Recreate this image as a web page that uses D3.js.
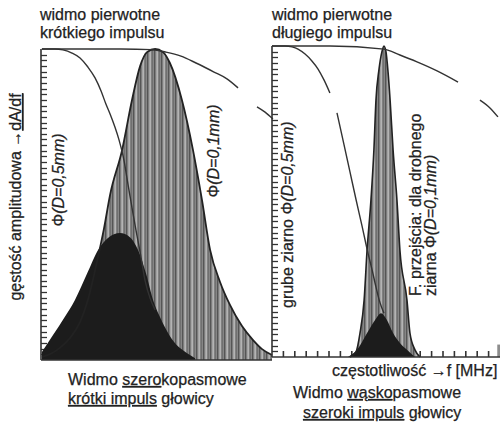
<!DOCTYPE html>
<html><head><meta charset="utf-8">
<script src="https://cdn.jsdelivr.net/npm/d3@7"></script>
<style>html,body{margin:0;padding:0;background:#fff}svg{display:block}</style>
</head><body>
<script>
// ---- data (frequency f in % of panel width, amplitude a relative 0..1) ----
const leftSpectrum = [[0.4,0.010],[3.9,0.019],[8.2,0.039],[12.6,0.071],[16.9,0.122],[20.3,0.193],[24.2,0.315],[27.3,0.424],[29.9,0.531],[35.1,0.675],[39.4,0.836],[42.9,0.945],[45.9,0.990],[49.4,1.0],[52.8,0.990],[55.8,0.955],[61.0,0.836],[65.8,0.675],[69.7,0.514],[73.2,0.354],[77.5,0.251],[81.8,0.177],[87.0,0.109],[91.8,0.064],[95.7,0.035],[100,0.016]];
const leftCoarse = [[0.4,0.026],[5.2,0.080],[10.0,0.135],[14.7,0.193],[19.9,0.277],[24.7,0.354],[29.0,0.392],[34.2,0.408],[38.5,0.395],[42.0,0.354],[45.5,0.277],[48.5,0.193],[51.5,0.138],[55.0,0.087],[58.4,0.051],[61.9,0.029],[66.7,0.006]];
const leftFilterCoarse = [[0.4,1.0],[6.1,1.0],[9.5,0.997],[13.4,0.987],[16.9,0.971],[20.3,0.942],[23.4,0.907],[26.0,0.865],[28.1,0.823],[29.9,0.791],[32.0,0.749],[33.8,0.707],[35.9,0.643],[37.7,0.563],[39.4,0.489],[41.1,0.418],[42.9,0.347],[45.0,0.257],[47.2,0.199],[49.4,0.161]];
const leftFilterFine = [[0.4,1.0],[17.3,1.0],[34.6,1.0],[47.6,0.998],[54.1,0.990],[60.6,0.977],[67.1,0.955],[74.9,0.926],[80.5,0.904],[85.3,0.875],null,[93.5,0.814],[97.0,0.797],[100.4,0.775]];
const rightSpectrum = [[34.2,0],[36.8,0.016],[38.6,0.077],[40.4,0.183],[41.7,0.344],[43.4,0.505],[44.7,0.666],[45.6,0.826],[46.9,0.923],[48.2,0.981],[49.1,1.0],[50.0,0.981],[50.9,0.916],[51.8,0.826],[53.1,0.666],[54.8,0.505],[56.1,0.344],[59.2,0.183],[60.5,0.077],[62.7,0.023],[64.9,0]];
const rightCoarse = [[33.3,0],[37.3,0.023],[41.7,0.077],[45.2,0.119],[47.8,0.141],[50.4,0.119],[53.1,0.077],[56.1,0.045],[59.2,0.023],[62.7,0]];
const rightFilterCoarse = [[0,1.0],[5.7,1.0],[8.8,0.997],[11.4,0.990],[14.5,0.974],[17.5,0.952],[20.2,0.926],[22.8,0.891],[25.4,0.849],null,[28.5,0.785],[31.6,0.682],[34.2,0.595],[36.8,0.508],[39.5,0.421],[42.1,0.334],[43.9,0.280],[45.6,0.225],[47.4,0.174],[49.1,0.141]];
const rightFilterFine = [[0,1.0],[25.4,1.0],[49.1,0.990],[56.1,0.971],[63.6,0.949],[72.4,0.920],[81.6,0.884],null,[91.2,0.826],[95.6,0.801],[99.1,0.772]];
const rightEdge = [[98.8,0.04],[100,0.04]];
const xTickValues = [5,10,15,20,25,30,35,40,45,50,55,60,65,70,75,80,85,90,95];
const yTickCount = 55;
const yTickValues = d3.range(1, yTickCount).map(i => i / yTickCount);

const W = 500, H = 423;
const FONT = '"Liberation Sans", Arial, sans-serif';
const INK = '#222';
const svg = d3.select('body').append('svg').attr('width', W).attr('height', H)
  .style('font-family', FONT);

// stripe pattern for the grey spectra
const defs = svg.append('defs');
const pat = defs.append('pattern').attr('id', 'stripes').attr('patternUnits', 'userSpaceOnUse')
  .attr('width', 7).attr('height', 10);
pat.append('rect').attr('width', 7).attr('height', 10).attr('fill', '#868686');
pat.append('rect').attr('x', 0).attr('width', 1.2).attr('height', 10).attr('fill', '#555');
pat.append('rect').attr('x', 2.5).attr('width', 1.3).attr('height', 10).attr('fill', '#c0c0c0');
pat.append('rect').attr('x', 4.8).attr('width', 0.9).attr('height', 10).attr('fill', '#666');

const xL = d3.scaleLinear([0, 100], [41, 272]);
const yL = d3.scaleLinear([0, 1], [360, 49]);
const xR = d3.scaleLinear([0, 100], [272, 500]);
const yR = d3.scaleLinear([0, 1], [357, 46]);

function drawTicks(x, y) {
  const x0 = x.range()[0], y0 = y.range()[0];
  const gy = svg.append('g').attr('class', 'yticks').attr('stroke', '#333').attr('stroke-width', 1.3);
  gy.selectAll('line').data(yTickValues).join('line')
    .attr('x1', x0).attr('x2', x0 + 6)
    .attr('y1', d => Math.round(y(d)) + 0.5).attr('y2', d => Math.round(y(d)) + 0.5);
  const gx = svg.append('g').attr('class', 'xticks').attr('stroke', '#333').attr('stroke-width', 1.6);
  gx.selectAll('line').data(xTickValues).join('line')
    .attr('x1', d => x(d)).attr('x2', d => x(d))
    .attr('y1', y0).attr('y2', y0 - 6);
}
function domains(x, y) {
  const g = svg.append('g').attr('stroke', '#333').attr('stroke-width', 1.6).attr('fill', 'none');
  g.append('line').attr('x1', x.range()[0]).attr('x2', x.range()[0]).attr('y1', y.range()[1]).attr('y2', y.range()[0]);
  g.append('line').attr('x1', x.range()[0]).attr('x2', x.range()[1]).attr('y1', y.range()[0]).attr('y2', y.range()[0]);
}
function area(x, y, data, fill) {
  svg.append('path').datum(data)
    .attr('d', d3.area().x(d => x(d[0])).y0(y(0)).y1(d => y(d[1])).curve(d3.curveMonotoneX))
    .attr('fill', fill);
}
function curve(x, y, data, stroke, w) {
  svg.append('path').datum(data)
    .attr('d', d3.line().defined(d => d != null).x(d => x(d[0])).y(d => y(d[1])).curve(d3.curveMonotoneX))
    .attr('fill', 'none').attr('stroke', stroke).attr('stroke-width', w).attr('stroke-linejoin', 'round');
}

drawTicks(xL, yL);
drawTicks(xR, yR);

// left panel
area(xL, yL, leftSpectrum, 'url(#stripes)');
area(xL, yL, leftCoarse, '#1c1c1c');
curve(xL, yL, leftSpectrum, '#222', 1.8);
curve(xL, yL, leftFilterCoarse, '#333', 1.4);
curve(xL, yL, leftFilterFine, '#333', 1.4);

// right panel
area(xR, yR, rightSpectrum, 'url(#stripes)');
area(xR, yR, rightCoarse, '#1c1c1c');
area(xR, yR, rightEdge, '#8d8d8d');
curve(xR, yR, rightSpectrum, '#222', 1.6);
curve(xR, yR, rightFilterCoarse, '#333', 1.4);
curve(xR, yR, rightFilterFine, '#333', 1.4);

domains(xL, yL);
domains(xR, yR);

// ---- texts ----
function txt(x, y, parts, opts = {}) {
  const t = svg.append('text').attr('fill', INK).attr('font-size', opts.size || 16)
    .attr('stroke', INK).attr('stroke-width', 0.25)
    .attr('text-anchor', opts.anchor || 'start');
  if (opts.rotate) t.attr('transform', `translate(${x},${y}) rotate(-90)`);
  else t.attr('x', x).attr('y', y);
  parts.forEach(p => {
    if (typeof p === 'string') p = { t: p };
    const s = t.append('tspan').text(p.t);
    if (p.u) s.style('text-decoration', 'underline');
    if (p.i) s.attr('font-style', 'italic');
  });
  return t;
}
txt(40, 20, ['widmo pierwotne']);
txt(40, 38, ['krótkiego impulsu']);
txt(272, 20, ['widmo pierwotne']);
txt(272, 38, ['długiego impulsu']);

txt(21, 197, ['gęstość amplitudowa  →', { t: 'dA/df', u: true }], { rotate: true, anchor: 'middle' });
txt(64, 180, ['Φ', { t: '(D=0,5mm)', i: true }], { rotate: true, anchor: 'middle' });
txt(219, 151, ['Φ', { t: '(D=0,1mm)', i: true }], { rotate: true, anchor: 'middle' });
txt(293, 308, ['grube ziarno Φ', { t: '(D=0,5mm)', i: true }], { rotate: true });
txt(421, 296, ['F. przejścia: dla drobnego'], { rotate: true });
txt(436, 296, ['ziarna Φ', { t: '(D=0,1mm)', i: true }], { rotate: true });

txt(332, 376, ['częstotliwość →f [MHz]']);
txt(68, 385, ['Widmo ', { t: 'szero', u: true }, 'kopasmowe']);
txt(68, 404, [{ t: 'krótki impuls', u: true }, ' głowicy']);
txt(293, 398, ['Widmo ', { t: 'wąsko', u: true }, 'pasmowe']);
txt(303, 418, [{ t: 'szeroki impuls', u: true }, ' głowicy']);
</script>
</body></html>
